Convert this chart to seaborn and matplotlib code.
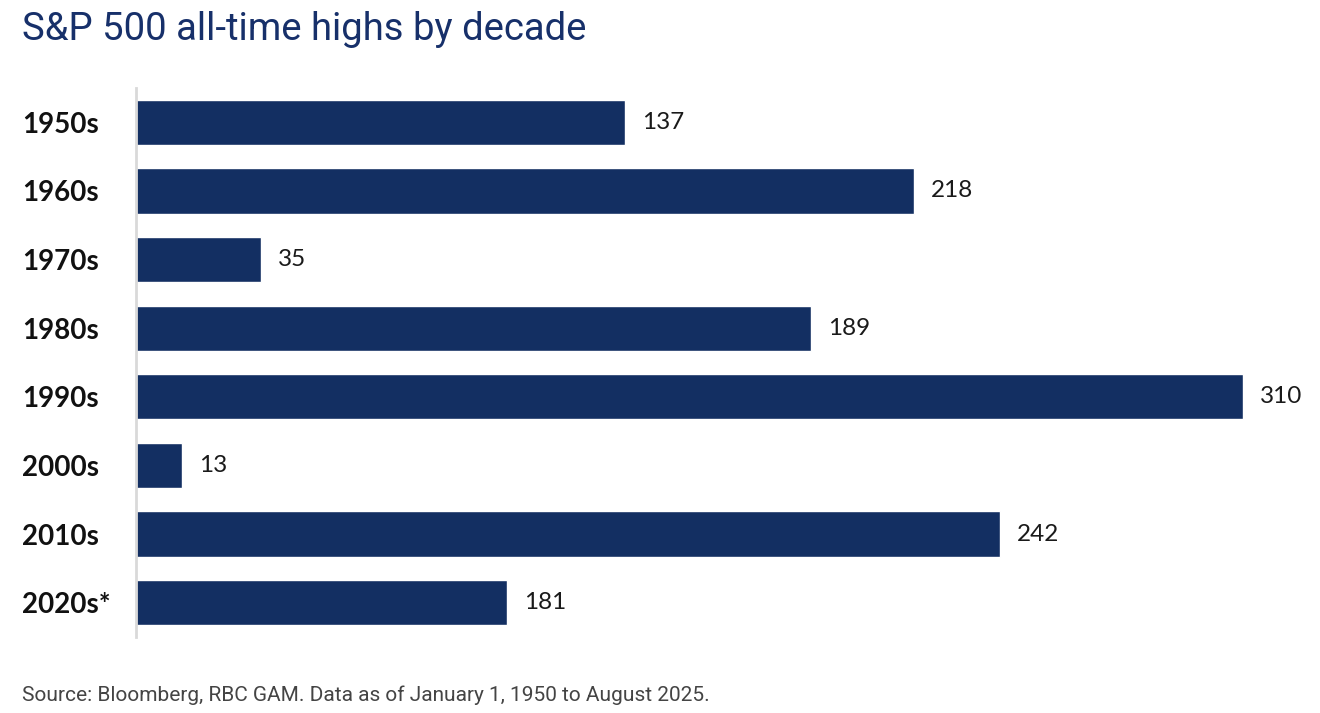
import matplotlib
matplotlib.use("Agg")
import matplotlib.pyplot as plt
import seaborn as sns
import pandas as pd

decades = ["1950s", "1960s", "1970s", "1980s", "1990s", "2000s", "2010s", "2020s*"]
# labelled counts
highs = [137, 218, 35, 189, 310, 13, 242, 181]
# bar lengths as drawn in the source (2020s bar is drawn shorter than its label)
bar_lengths = [137, 218, 35, 189, 310, 13, 242, 104]

bar_color = "#132f62"

sns.set_theme(style="white")
plt.rcParams["font.family"] = ["Lato", "DejaVu Sans"]

df = pd.DataFrame({"decade": decades, "length": bar_lengths})

fig = plt.figure(figsize=(13.2, 7.13), dpi=100)
ax = fig.add_axes([136 / 1320, 1 - 637 / 713, (1300 - 136) / 1320, (637 - 88) / 713])

sns.barplot(data=df, x="length", y="decade", color=bar_color, width=0.66,
            saturation=1, ax=ax, orient="h")

ax.set_xlim(0, (1300 - 136) / ((1243 - 136) / 310))
ax.set_ylim(7.5, -0.5)
ax.set_xlabel("")
ax.set_ylabel("")
ax.set_xticks([])

for s in ["top", "right", "bottom"]:
    ax.spines[s].set_visible(False)
ax.spines["left"].set_color("#d9d9d9")
ax.spines["left"].set_linewidth(2)

ax.tick_params(axis="y", length=0, pad=82)
for lbl in ax.get_yticklabels():
    lbl.set_horizontalalignment("left")
    lbl.set_fontsize(20)
    lbl.set_fontweight("bold")
    lbl.set_color("#111111")

for i, (v, n) in enumerate(zip(bar_lengths, highs)):
    ax.annotate(str(n), xy=(v, i), xytext=(12, 0), textcoords="offset points",
                va="center", ha="left", fontsize=17.5, color="#1a1a1a")

fig.text(22 / 1320, 1 - 29 / 713, "S&P 500 all-time highs by decade", family="Roboto",
         fontsize=27.5, color="#17306a", va="center", ha="left")
fig.text(22 / 1320, 1 - 695 / 713,
         "Source: Bloomberg, RBC GAM. Data as of January 1, 1950 to August 2025.",
         family="Roboto", fontsize=15, color="#444444", va="center", ha="left")

fig.savefig("out.png", dpi=100)
